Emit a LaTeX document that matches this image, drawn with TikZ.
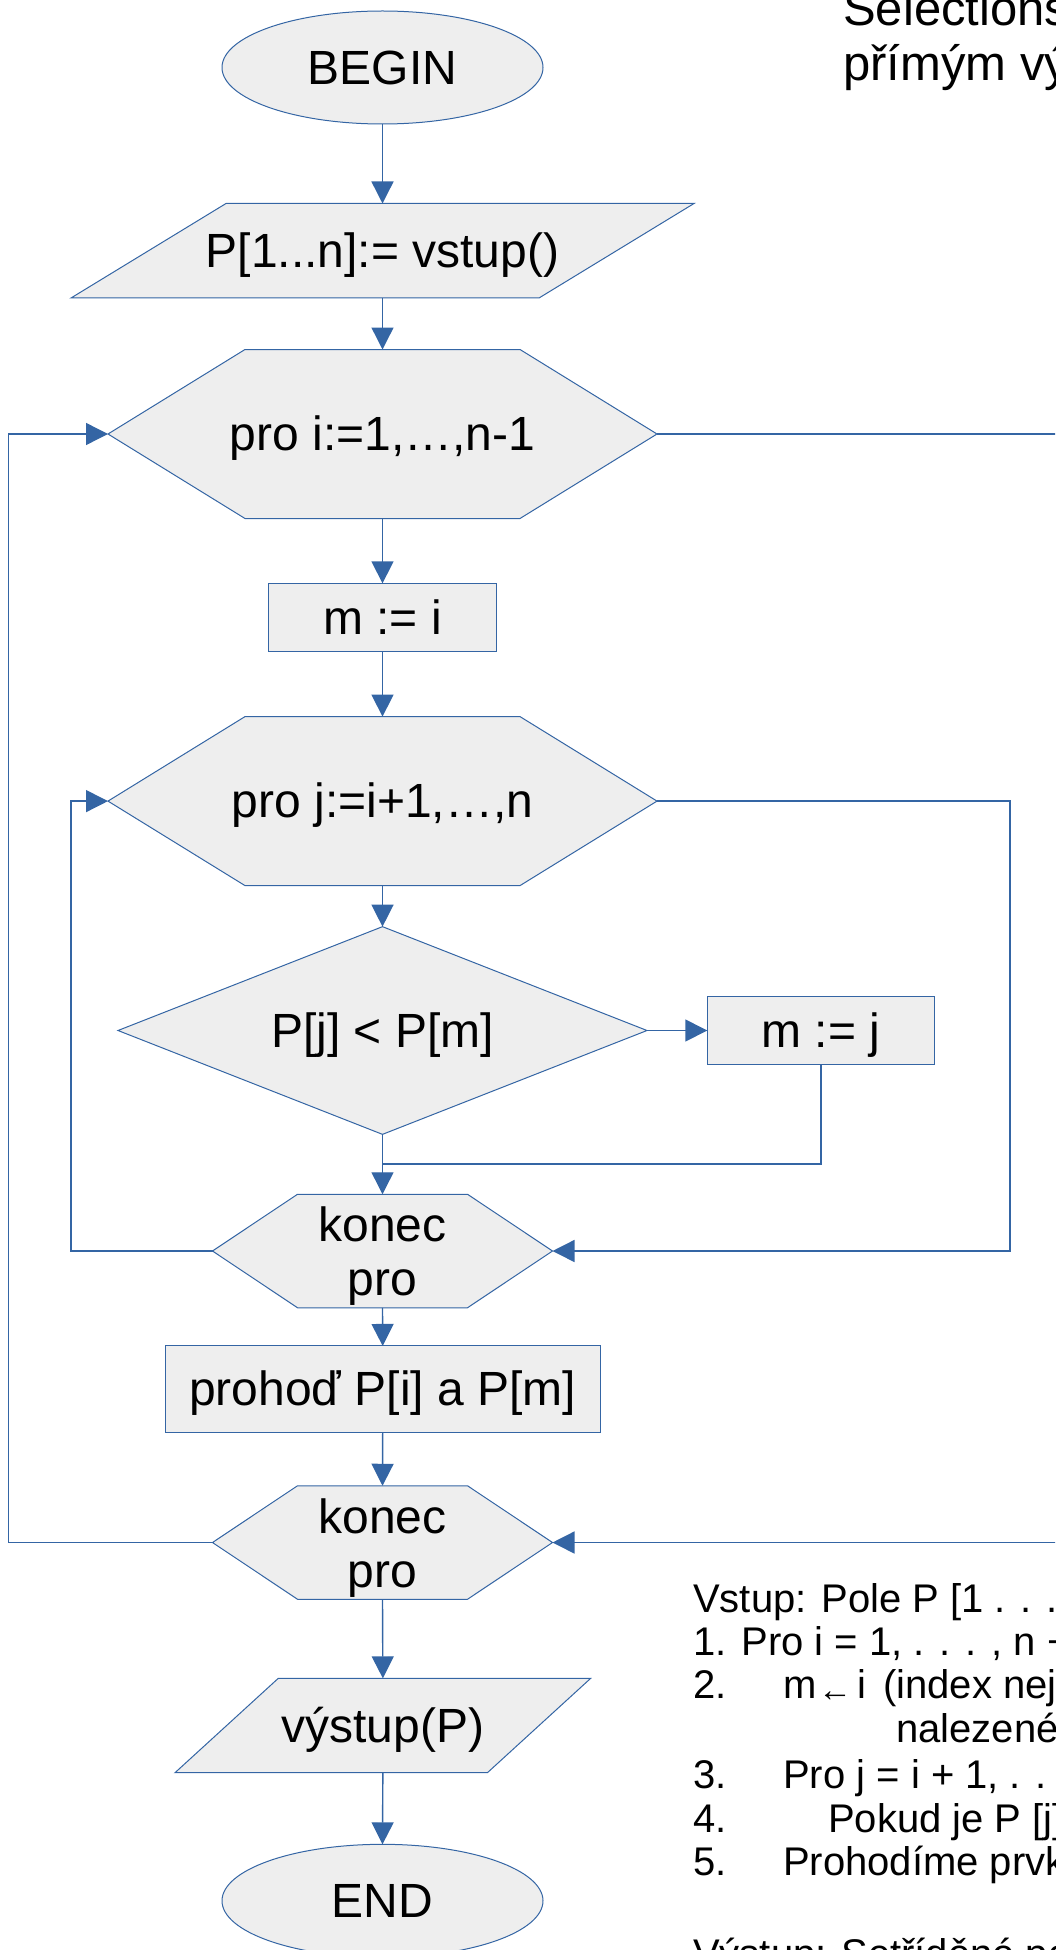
\documentclass[tikz,border=0pt]{standalone}
\usepackage{fontspec}
\setmainfont{Liberation Sans}
\usetikzlibrary{arrows.meta,shapes.geometric,backgrounds,calc}
\definecolor{lnblue}{HTML}{3465A4}
\definecolor{shfill}{HTML}{EEEEEE}
\tikzset{
  shapebox/.style={rectangle, inner sep=0pt, outer sep=0pt, font=\fontsize{48}{54}\selectfont, text height=43.4pt, text depth=10.2pt},
  procbox/.style={shapebox, draw=lnblue, fill=shfill, line width=1pt},
  konecbox/.style={rectangle, inner sep=0pt, outer sep=0pt, align=center, font=\fontsize{48}{54}\selectfont, minimum width=340pt, minimum height=113.5pt},
  term/.style={ellipse, draw=lnblue, fill=shfill, line width=1pt, inner sep=0pt, outer sep=0pt, minimum width=321pt, minimum height=113pt, font=\fontsize{48}{54}\selectfont, text height=43.4pt, text depth=10.2pt},
  outline/.style={draw=lnblue, fill=shfill, line width=1pt},
  flow/.style={draw=lnblue, line width=1.4pt, -{Triangle[length=22pt,width=22pt]}},
  plainline/.style={draw=lnblue, line width=1.4pt},
  note/.style={anchor=base west, inner sep=0pt, font=\fontsize{40}{44}\selectfont},
  titletext/.style={anchor=base west, inner sep=0pt, font=\fontsize{49}{55}\selectfont},
}
\begin{document}
\begin{tikzpicture}[x=1pt,y=-1pt]
\useasboundingbox (0,0) rectangle (1055,1950);
\clip (0,0) rectangle (1055,1950);

% nodes
\node[term] (begin) at (382.5,67.5) {BEGIN};
\node[shapebox, minimum width=623pt, minimum height=94.5pt] (inp) at (382.5,250.75) {P[1...n]:= vstup()};
\node[shapebox, minimum width=549pt, minimum height=169pt] (fori) at (382.5,434) {pro i:=1,…,n-1};
\node[procbox, minimum width=227.7pt, minimum height=68.5pt] (mi) at (382.5,617.6) {m := i};
\node[shapebox, minimum width=549pt, minimum height=169pt] (forj) at (382.5,801.1) {pro j:=i+1,…,n};
\node[shapebox, minimum width=529pt, minimum height=207.7pt] (cmp) at (382.5,1030.5) {P[j] < P[m]};
\node[procbox, minimum width=227pt, minimum height=68.3pt] (mj) at (820.8,1030.5) {m := j};
\node[konecbox] (endj) at (382.5,1251) {\rule{0pt}{45pt}konec\\pro};
\node[procbox, minimum width=434.6pt, minimum height=86.7pt] (swap) at (382.7,1389.3) {prohoď P[i] a P[m]};
\node[konecbox] (endi) at (382.5,1542.5) {\rule{0pt}{45pt}konec\\pro};
\node[shapebox, minimum width=415.7pt, minimum height=94.4pt] (outp) at (382.85,1725.5) {výstup(P)};
\node[term] (end) at (382.5,1900.8) {END};

% outlines behind the texts
\begin{scope}[on background layer]
\path[outline] ([xshift=155pt]inp.north west) -- (inp.north east) -- ([xshift=-155pt]inp.south east) -- (inp.south west) -- cycle;
\path[outline] (fori.west) -- ([xshift=-137.5pt]fori.north) -- ([xshift=137.5pt]fori.north) -- (fori.east) -- ([xshift=137.5pt]fori.south) -- ([xshift=-137.5pt]fori.south) -- cycle;
\path[outline] (forj.west) -- ([xshift=-137.5pt]forj.north) -- ([xshift=137.5pt]forj.north) -- (forj.east) -- ([xshift=137.5pt]forj.south) -- ([xshift=-137.5pt]forj.south) -- cycle;
\path[outline] (cmp.north) -- (cmp.east) -- (cmp.south) -- (cmp.west) -- cycle;
\path[outline] (endj.west) -- ([xshift=-85pt]endj.north) -- ([xshift=85pt]endj.north) -- (endj.east) -- ([xshift=85pt]endj.south) -- ([xshift=-85pt]endj.south) -- cycle;
\path[outline] (endi.west) -- ([xshift=-85pt]endi.north) -- ([xshift=85pt]endi.north) -- (endi.east) -- ([xshift=85pt]endi.south) -- ([xshift=-85pt]endi.south) -- cycle;
\path[outline] ([xshift=103.3pt]outp.north west) -- (outp.north east) -- ([xshift=-103.3pt]outp.south east) -- (outp.south west) -- cycle;
\end{scope}

% helper coordinates
\coordinate (join) at (382.5,1164);
\coordinate (ljx) at (70.9,0);
\coordinate (rjx) at (1010,0);
\coordinate (lix) at (8.3,0);
\coordinate (rix) at (1080,0);

% connectors
\draw[flow] (begin.south) -- (inp.north);
\draw[flow] (inp.south) -- (fori.north);
\draw[flow] (fori.south) -- (mi.north);
\draw[flow] (mi.south) -- (forj.north);
\draw[flow] (forj.south) -- (cmp.north);
\draw[flow] (cmp.east) -- (mj.west);
\draw[flow] (cmp.south) -- (endj.north);
\draw[plainline] (mj.south) |- (join);
\draw[flow] (endj.west) -- (ljx |- endj.west) -- (ljx |- forj.west) -- (forj.west);
\draw[flow] (forj.east) -- (rjx |- forj.east) -- (rjx |- endj.east) -- (endj.east);
\draw[flow] (endj.south) -- (swap.north);
\draw[flow] (swap.south) -- (endi.north);
\draw[flow] (endi.west) -- (lix |- endi.west) -- (lix |- fori.west) -- (fori.west);
\draw[flow] (fori.east) -- (rix |- fori.east) -- (rix |- endi.east) -- (endi.east);
\draw[flow] (endi.south) -- (outp.north);
\draw[flow] (outp.south) -- (end.north);

% title
\node[titletext] (t1) at (843,26) {Selections};
\node[titletext] (t2) at (843,81) {přímým vý};

% notes
\node[note] (v0) at (693,1612) {Vstup: Pole P [1 . . .};
\node[note] (l1) at (693,1655) {1. Pro i = 1, . . . , n −};
\node[note] (n2) at (693,1698) {2.};
\node[note] (l2m) at (783,1698) {m};
\node[anchor=base, inner sep=0pt, font=\fontsize{34}{34}\selectfont] (l2a) at (835,1701) {←};
\node[note] (l2i) at (857,1698) {i};
\node[note] (l2b) at (883,1698) {(index nej};
\node[note] (l2c) at (896,1742) {nalezené};
\node[note] (n3) at (693,1788) {3.};
\node[note] (l3) at (783,1788) {Pro j = i + 1, . .};
\node[note] (n4) at (693,1832) {4.};
\node[note] (l4) at (828,1832) {Pokud je P [j]};
\node[note] (n5) at (693,1875) {5.};
\node[note] (l5) at (783,1875) {Prohodíme prvk};
\node[note] (vy) at (693,1967) {Výstup: Setříděné po};
\end{tikzpicture}
\end{document}
